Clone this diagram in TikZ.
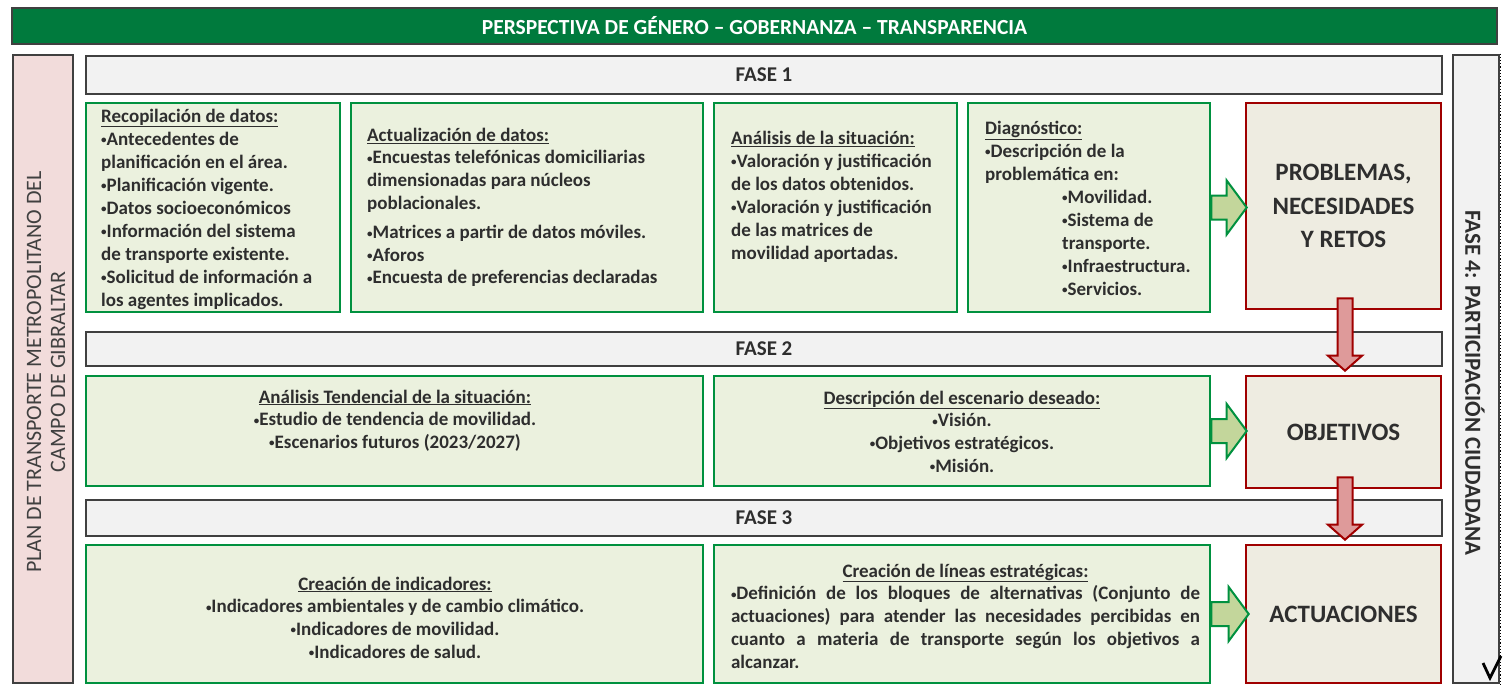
\documentclass[tikz,border=0pt]{standalone}
\usepackage{fontspec}
\setmainfont{Carlito}
\usetikzlibrary{calc}
\definecolor{gborder}{HTML}{00913F}
\definecolor{gfill}{HTML}{EBF1DE}
\definecolor{rborder}{HTML}{A00000}
\definecolor{rfill}{HTML}{EEECE1}
\definecolor{barfill}{HTML}{F2F2F2}
\definecolor{barline}{HTML}{404040}
\definecolor{topfill}{HTML}{007A3D}
\definecolor{pinkfill}{HTML}{F2DCDB}
\definecolor{txtc}{HTML}{2E2E2E}
\definecolor{garrowfill}{HTML}{C3D69B}
\definecolor{rarrowfill}{HTML}{DE9A9A}
\newcommand\bul{\raisebox{1.6pt}{\fontsize{11}{11}\selectfont•}}
\newcommand\harrowblock[2]{%
  \path[garrowst] let \p1=(#1), \p2=(#2) in
    (\x1,\y1+12pt) -- (\x2-20pt,\y1+12pt) -- (\x2-20pt,\y1+27pt) -- (\x2,\y1)
    -- (\x2-20pt,\y1-27pt) -- (\x2-20pt,\y1-12pt) -- (\x1,\y1-12pt) -- cycle;}
\newcommand\varrowblock[2]{%
  \path[rarrowst] let \p1=(#1), \p2=(#2) in
    (\x1-7.5pt,\y1) -- (\x1+7.5pt,\y1) -- (\x1+7.5pt,\y2+15pt) -- (\x1+17pt,\y2+15pt)
    -- (\x1,\y2) -- (\x1-17pt,\y2+15pt) -- (\x1-7.5pt,\y2+15pt) -- cycle;}
\begin{document}
\begin{tikzpicture}[x=1pt,y=-1pt,
  gbox/.style={draw=gborder, fill=gfill, line width=2.6pt, inner sep=0pt},
  rbox/.style={draw=rborder, fill=rfill, line width=2.6pt, inner sep=0pt, align=center,
    text=txtc, font=\fontsize{25}{33.5}\selectfont\bfseries},
  barbox/.style={draw=barline, fill=barfill, line width=2.8pt, inner sep=0pt,
    text=txtc, font=\fontsize{21}{24}\selectfont\bfseries},
  txt/.style={text=txtc, align=left, inner sep=0pt, font=\fontsize{19}{23}\selectfont\bfseries},
  ctxt/.style={text=txtc, align=center, inner sep=0pt, font=\fontsize{19}{22.7}\selectfont\bfseries},
  garrowst/.style={draw=gborder, fill=garrowfill, line width=2pt, line join=miter},
  rarrowst/.style={draw=rborder, fill=rarrowfill, line width=2pt, line join=miter}]
\useasboundingbox[fill=white] (0,0) rectangle (1503,686);

% top bar
\node[draw=barline, fill=topfill, line width=2.8pt, minimum width=1485pt, minimum height=36pt,
  text=white, font=\fontsize{21.5}{24}\selectfont\bfseries] (top) at (754.5,26)
  {PERSPECTIVA DE GÉNERO – GOBERNANZA – TRANSPARENCIA};

% left column
\node[draw=barline, fill=pinkfill, line width=2.8pt, minimum width=60pt, minimum height=628pt] (left) at (43,369) {};
\node[rotate=90, align=center, text=barline, inner sep=0pt,
  font=\fontsize{22}{24}\selectfont] (lefttxt) at (46,372)
  {PLAN DE TRANSPORTE METROPOLITANO DEL\\CAMPO DE GIBRALTAR};

% right column
\node[draw=barline, fill=barfill, line width=2.8pt, minimum width=46pt, minimum height=628pt] (right) at (1476,369) {};
\draw[black, line width=1.2pt, dotted] (right.north east) -- (right.south east);
\node[rotate=-90, text=txtc, inner sep=0pt, font=\fontsize{23}{24}\selectfont\bfseries] (righttxt) at (1475,383)
  {FASE 4: PARTICIPACIÓN CIUDADANA};
\coordinate (vm1) at (1483,663);
\coordinate (vm2) at (1490,678);
\coordinate (vm3) at (1501,656);
\draw[black, line width=2.8pt] (vm1) -- (vm2) -- (vm3);

% phase bars
\node[barbox, minimum width=1356pt, minimum height=38pt] (f1) at (764,75) {FASE 1};
\node[barbox, minimum width=1356pt, minimum height=34pt] (f2) at (764,349) {FASE 2};
\node[barbox, minimum width=1356pt, minimum height=36pt] (f3) at (764,518) {FASE 3};

% row 1
\node[gbox, minimum width=254pt, minimum height=209pt] (ba) at (213,207.5) {};
\node[gbox, minimum width=352pt, minimum height=209pt] (bb) at (527,207.5) {};
\node[gbox, minimum width=243pt, minimum height=209pt] (bc) at (835.5,207.5) {};
\node[gbox, minimum width=242pt, minimum height=209pt] (bd) at (1089,207.5) {};
\node[rbox, minimum width=195pt, minimum height=206pt] (pnr) at (1343.5,206)
  {PROBLEMAS,\\NECESIDADES\\Y RETOS};

\node[txt, anchor=west] (ta) at (101,209)
  {\underline{Recopilación de datos:}\\
   \bul Antecedentes de\\
   planificación en el área.\\
   \bul Planificación vigente.\\
   \bul Datos socioeconómicos\\
   \bul Información del sistema\\
   de transporte existente.\\
   \bul Solicitud de información a\\
   los agentes implicados.};
\node[txt, anchor=west, font=\fontsize{19}{22.6}\selectfont\bfseries] (tb) at (367,207.5)
  {\underline{Actualización de datos:}\\
   \bul Encuestas telefónicas domiciliarias\\
   dimensionadas para núcleos\\
   poblacionales.\\[7pt]
   \bul Matrices a partir de datos móviles.\\
   \bul Aforos\\
   \bul Encuesta de preferencias declaradas};
\node[txt, anchor=west] (tc) at (731,196.5)
  {\underline{Análisis de la situación:}\\
   \bul Valoración y justificación\\
   de los datos obtenidos.\\
   \bul Valoración y justificación\\
   de las matrices de\\
   movilidad aportadas.};
\node[txt, anchor=west] (td) at (985,208)
  {\underline{Diagnóstico:}\\
   \bul Descripción de la\\
   problemática en:\\
   \hspace*{77pt}\bul Movilidad.\\
   \hspace*{77pt}\bul Sistema de\\
   \hspace*{77pt}transporte.\\
   \hspace*{77pt}\bul Infraestructura.\\
   \hspace*{77pt}\bul Servicios.};

% row 2
\node[gbox, minimum width=617pt, minimum height=110pt] (ba2) at (394.5,431) {};
\node[gbox, minimum width=496pt, minimum height=110pt] (bb2) at (962,431) {};
\node[rbox, minimum width=195pt, minimum height=112pt] (obj) at (1343.5,432) {OBJETIVOS};
\node[ctxt] (ta2) at (395,420.5)
  {\underline{Análisis Tendencial de la situación:}\\
   \bul Estudio de tendencia de movilidad.\\
   \bul Escenarios futuros (2023/2027)};
\node[ctxt] (tb2) at (962,431.5)
  {\underline{Descripción del escenario deseado:}\\
   \bul Visión.\\
   \bul Objetivos estratégicos.\\
   \bul Misión.};

% row 3
\node[gbox, minimum width=617pt, minimum height=138pt] (ba3) at (394.5,614) {};
\node[gbox, minimum width=496pt, minimum height=138pt] (bb3) at (962,614) {};
\node[rbox, minimum width=195pt, minimum height=138pt] (act) at (1343.5,614) {ACTUACIONES};
\node[ctxt] (ta3) at (395,617.5)
  {\underline{Creación de indicadores:}\\
   \bul Indicadores ambientales y de cambio climático.\\
   \bul Indicadores de movilidad.\\
   \bul Indicadores de salud.};
\node[txt, align=justify, text width=469pt, font=\fontsize{19}{22.8}\selectfont\bfseries] (tb3) at (965.5,616)
  {\makebox[\linewidth]{\underline{Creación de líneas estratégicas:}}\\
   \bul Definición de los bloques de alternativas (Conjunto de\linebreak
   actuaciones) para atender las necesidades percibidas en\linebreak
   cuanto a materia de transporte según los objetivos a\linebreak
   alcanzar.};

% arrows
\harrowblock{bd.east}{$(pnr.west)+(2,0)$}
\harrowblock{bb2.east}{$(obj.west)+(2,0)$}
\harrowblock{bb3.east}{$(act.west)+(4,0)$}
\varrowblock{$(pnr.south)+(1.5,-12)$}{$(obj.north)+(1.5,-4)$}
\varrowblock{$(obj.south)+(1.5,-12)$}{$(act.north)+(1.5,-4)$}
\end{tikzpicture}
\end{document}
